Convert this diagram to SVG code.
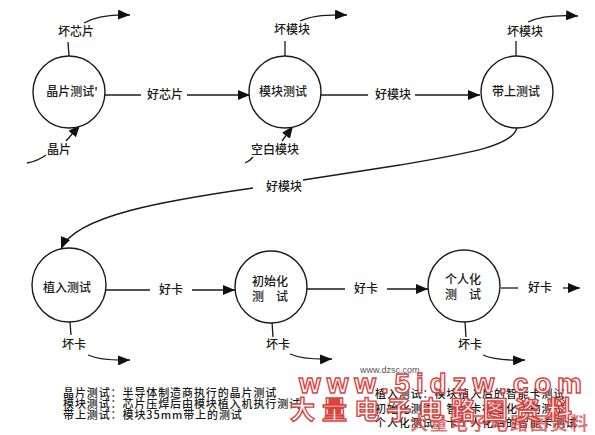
<svg xmlns="http://www.w3.org/2000/svg" width="595" height="435" viewBox="0 0 595 435">
<style>
.c{fill:#fff;stroke:#1a1a1a;stroke-width:1.4}
.l{fill:none;stroke:#1a1a1a;stroke-width:1.3}
.t{font-family:"Noto Sans CJK SC","Liberation Sans",sans-serif;font-size:12px;font-weight:500;fill:#1a1a1a;text-anchor:middle}
.g{font-family:"Noto Sans CJK SC","Liberation Sans",sans-serif;font-size:11px;font-weight:500;fill:#1a1a1a;letter-spacing:0.9px}
.wm{font-family:"Liberation Sans","Noto Sans CJK SC",sans-serif;font-weight:bold;fill:#fff;fill-opacity:0.85;stroke:#d9443f;stroke-width:1.4}
</style>
<defs>
<marker id="ah" viewBox="0 0 12 10" refX="12" refY="5" markerWidth="12" markerHeight="10" markerUnits="userSpaceOnUse" orient="auto"><path d="M0,0 L12,5 L0,10 z" fill="#111"/></marker>
</defs>
<rect width="595" height="435" fill="#fff"/>

<g id="connectors">
  <path class="l" d="M105,95 L141,95"/>
  <path class="l" d="M187,95 L250,95" marker-end="url(#ah)"/>
  <text class="t" x="165" y="99">好芯片</text>
  <path class="l" d="M321,95 L368,95"/>
  <path class="l" d="M415,95 L480,95" marker-end="url(#ah)"/>
  <text class="t" x="393" y="99">好模块</text>
  <path class="l" d="M517,128 C512,146 470,153 400,165 L303,180"/>
  <path class="l" d="M253,188 C170,200 75,215 61,249" marker-end="url(#ah)"/>
  <text class="t" x="284" y="191">好模块</text>
  <path class="l" d="M106,290 L150,290"/>
  <path class="l" d="M192,290 L235,290" marker-end="url(#ah)"/>
  <text class="t" x="171" y="294">好卡</text>
  <path class="l" d="M307,289 L345,289"/>
  <path class="l" d="M387,289 L428,289" marker-end="url(#ah)"/>
  <text class="t" x="366" y="293">好卡</text>
  <path class="l" d="M501,288 L518,288"/>
  <path class="l" d="M563,288 L580,288" marker-end="url(#ah)"/>
  <text class="t" x="540" y="292">好卡</text>

  <path class="l" d="M69,56 L68,42"/>
  <text class="t" x="76" y="36">坏芯片</text>
  <path class="l" d="M84,23 Q100,14 130,15" marker-end="url(#ah)"/>
  <path class="l" d="M285,56 L285,41"/>
  <text class="t" x="292" y="34">坏模块</text>
  <path class="l" d="M300,21 Q315,14 347,15" marker-end="url(#ah)"/>
  <path class="l" d="M516,56 L516,41"/>
  <text class="t" x="525" y="36">坏模块</text>
  <path class="l" d="M528,22 Q545,14 578,16" marker-end="url(#ah)"/>

  <path class="l" d="M27,163 Q38,161 46,155"/>
  <text class="t" x="59" y="154">晶片</text>
  <path class="l" d="M66,141 L80,125" marker-end="url(#ah)"/>
  <path class="l" d="M245,163 Q250,161 253,157"/>
  <text class="t" x="275" y="154">空白模块</text>
  <path class="l" d="M282,141 L293,126" marker-end="url(#ah)"/>

  <path class="l" d="M70,322 L71,335"/>
  <text class="t" x="74" y="349">坏卡</text>
  <path class="l" d="M88,355 Q102,361 130,360" marker-end="url(#ah)"/>
  <path class="l" d="M272,322 L273,337"/>
  <text class="t" x="278" y="349">坏卡</text>
  <path class="l" d="M290,354 Q304,360 332,359" marker-end="url(#ah)"/>
  <path class="l" d="M465,322 L466,337"/>
  <text class="t" x="470" y="349">坏卡</text>
  <path class="l" d="M483,355 Q497,361 525,360" marker-end="url(#ah)"/>
</g>

<g id="n1"><circle class="c" cx="69" cy="92" r="36"/><text class="t" x="72" y="96">晶片测试'</text></g>
<g id="n2"><circle class="c" cx="285" cy="92" r="36"/><text class="t" x="283" y="96">模块测试</text></g>
<g id="n3"><circle class="c" cx="517" cy="92" r="36"/><text class="t" x="516" y="96">带上测试</text></g>
<g id="n4"><circle class="c" cx="69" cy="285" r="37"/><text class="t" x="67" y="292">植入测试</text></g>
<g id="n5"><circle class="c" cx="271" cy="287" r="36"/><text class="t" x="270" y="286">初始化</text><text class="t" x="270" y="301">测　试</text></g>
<g id="n6"><circle class="c" cx="464" cy="286" r="36"/><text class="t" x="463" y="284">个人化</text><text class="t" x="463" y="299">测　试</text></g>

<g id="legend">
  <text class="g" x="63" y="397">晶片测试：半导体制造商执行的晶片测试</text>
  <text class="g" x="63" y="408">模块测试：芯片压焊后由模块植入机执行测试</text>
  <text class="g" x="63" y="419">带上测试：模块35mm带上的测试</text>
  <text class="g" x="375" y="398">植入测试：模块植入后的智能卡测试</text>
  <text class="g" x="375" y="413">初始化测试：智能卡初始化后的测试</text>
  <text class="g" x="375" y="427">个人化测试：卡个人化后的智能卡测试</text>
</g>

<g id="watermark">
  <text x="360" y="373" font-family="Liberation Sans,sans-serif" font-size="9" fill="#555">www.dzsc.com</text>
  <text class="wm" x="299" y="393" font-size="28" textLength="283" lengthAdjust="spacing">www.5idzw.com</text>
  <text x="410" y="430" font-family="Noto Sans CJK SC,sans-serif" font-size="18" font-weight="bold" fill="#d9443f" fill-opacity="0.75" textLength="178" lengthAdjust="spacing">大量电子电路图资料</text>
  <text class="wm" x="290" y="419" font-size="25" textLength="282" lengthAdjust="spacing" style="font-family:'Noto Sans CJK SC',sans-serif">大量电子电路图资料</text>
</g>
</svg>
